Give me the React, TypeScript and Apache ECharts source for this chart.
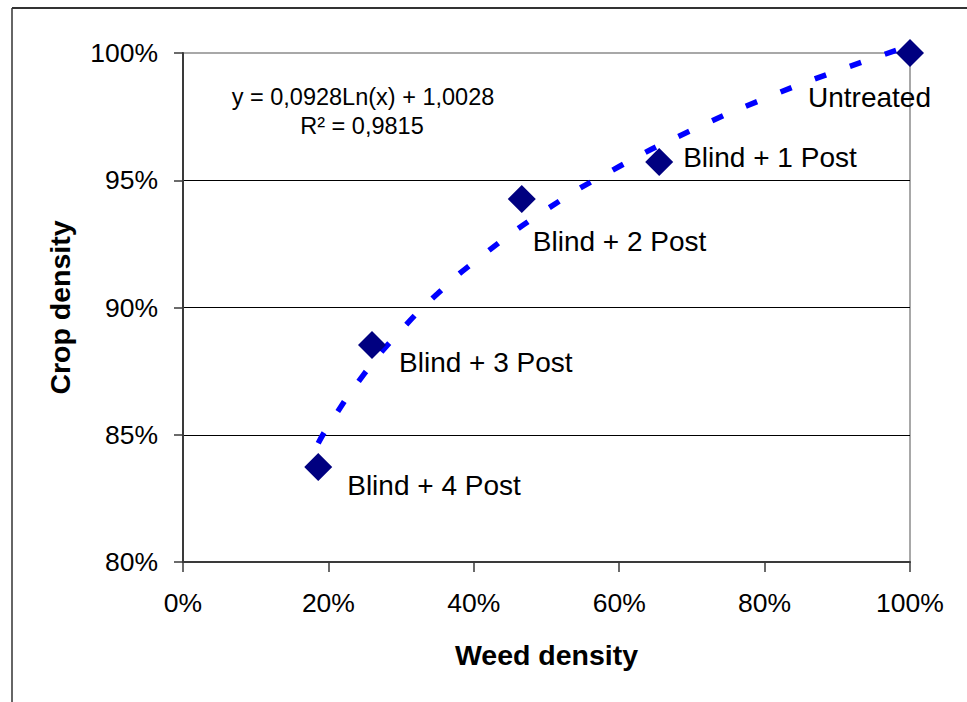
import React, { useEffect, useRef } from "react";
import * as echarts from "echarts";

// Data
const treatments = ["Untreated", "Blind + 1 Post", "Blind + 2 Post", "Blind + 3 Post", "Blind + 4 Post"];
const weedDensity = [100, 65.5, 46.6, 26.0, 18.6];
const cropDensity = [100, 95.72, 94.26, 88.53, 83.73];

// Logarithmic trend line as drawn
const trendX = [18.6, 20, 25, 30, 35, 40, 50, 60, 70, 80, 90, 100];
const trendY = [84.67, 85.35, 87.42, 89.11, 90.54, 91.78, 93.85, 95.54, 96.97, 98.21, 99.3, 100.28];

const equationText = "y = 0,0928Ln(x) + 1,0028";
const r2Text = "R² = 0,9815";
const xAxisTitle = "Weed density";
const yAxisTitle = "Crop density";

// Layout only: label offsets from each marker centre
const labelOffsets: number[][] = [
  [-102, 44],
  [24, -4],
  [11, 42],
  [27, 18],
  [29, 18],
];

const FONT = "'Liberation Sans', Arial, sans-serif";

export default function App() {
  const ref = useRef<HTMLDivElement>(null);

  useEffect(() => {
    if (!ref.current) return;
    const chart = echarts.init(ref.current, undefined, { renderer: "svg" });

    const scatterData = treatments.map((name, i) => ({
      name,
      value: [weedDensity[i], cropDensity[i]],
      label: { offset: labelOffsets[i] },
    }));
    const trendData = trendX.map((x, i) => [x, trendY[i]]);

    chart.setOption({
      animation: false,
      backgroundColor: "#fff",
      textStyle: { fontFamily: FONT },
      grid: {
        left: 183,
        top: 53,
        right: 57,
        bottom: 140,
        show: true,
        borderColor: "#8c8c8c",
        borderWidth: 1.5,
        backgroundColor: "transparent",
      },
      xAxis: {
        type: "value",
        min: 0,
        max: 100,
        interval: 20,
        name: xAxisTitle,
        nameLocation: "middle",
        nameGap: 78,
        nameTextStyle: { fontSize: 28.5, fontWeight: "bold", color: "#000", fontFamily: FONT },
        axisLine: { show: true, onZero: false, lineStyle: { color: "#3a3a3a", width: 2 } },
        axisTick: { show: true, length: 10, lineStyle: { color: "#3a3a3a", width: 1.5 } },
        axisLabel: { fontSize: 26.5, color: "#000", margin: 27, formatter: "{value}%", fontFamily: FONT },
        splitLine: { show: false },
      },
      yAxis: {
        type: "value",
        min: 80,
        max: 100,
        interval: 5,
        name: yAxisTitle,
        nameLocation: "middle",
        nameGap: 109,
        nameRotate: 90,
        nameTextStyle: { fontSize: 28.5, fontWeight: "bold", color: "#000", fontFamily: FONT },
        axisLine: { show: true, onZero: false, lineStyle: { color: "#3a3a3a", width: 2 } },
        axisTick: { show: true, length: 9, lineStyle: { color: "#3a3a3a", width: 1.5 } },
        axisLabel: { fontSize: 26.5, color: "#000", margin: 25, formatter: "{value}%", fontFamily: FONT },
        splitLine: { show: true, showMaxLine: false, lineStyle: { color: "#000", width: 1 } },
      },
      series: [
        {
          type: "line",
          data: trendData,
          smooth: true,
          showSymbol: false,
          silent: true,
          clip: false,
          z: 2,
          lineStyle: { color: "#0000ff", width: 5.5, type: [12, 25], cap: "butt", opacity: 1 },
        },
        {
          type: "scatter",
          data: scatterData,
          symbol: "diamond",
          symbolSize: 28,
          z: 3,
          itemStyle: { color: "#000080", opacity: 1 },
          label: {
            show: true,
            position: "inside",
            align: "left",
            verticalAlign: "middle",
            formatter: "{b}",
            fontSize: 28,
            color: "#000",
            opacity: 1,
            fontFamily: FONT,
          },
        },
      ],
      graphic: [
        {
          type: "line",
          shape: { x1: 12, y1: 8, x2: 967, y2: 8 },
          style: { stroke: "#333", lineWidth: 2 },
        },
        {
          type: "line",
          shape: { x1: 12, y1: 8, x2: 12, y2: 702 },
          style: { stroke: "#333", lineWidth: 1.5 },
        },
        {
          type: "text",
          x: 363,
          y: 97,
          style: {
            text: equationText,
            fontSize: 23.5,
            fill: "#000",
            align: "center",
            verticalAlign: "middle",
            fontFamily: FONT,
          },
        },
        {
          type: "text",
          x: 362,
          y: 126,
          style: {
            text: r2Text,
            fontSize: 23.5,
            fill: "#000",
            align: "center",
            verticalAlign: "middle",
            fontFamily: FONT,
          },
        },
      ],
    });

    return () => chart.dispose();
  }, []);

  return (
    <div
      ref={ref}
      style={{ position: "absolute", left: 0, top: 0, width: 967, height: 702, background: "#fff" }}
    />
  );
}
